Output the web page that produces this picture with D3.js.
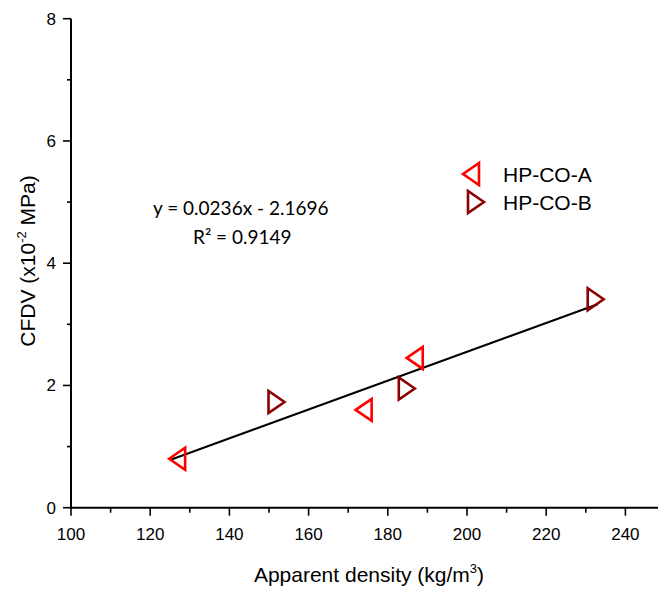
<!DOCTYPE html>
<html>
<head>
<meta charset="utf-8">
<script src="https://cdn.jsdelivr.net/npm/d3@7"></script>
<style>
  html, body { margin: 0; padding: 0; background: #fff; }
  svg { display: block; }
  text { font-family: "Liberation Sans", Arial, sans-serif; fill: #000; }
</style>
</head>
<body>
<svg id="chart" width="658" height="589"></svg>
<script>
// Series A: apparent density (kg/m3) and CFDV (x10^-2 MPa)
const densityA = [126.8, 173.9, 186.8];
const cfdvA    = [0.80, 1.60, 2.45];
// Series B
const densityB = [151.9, 184.8, 232.5];
const cfdvB    = [1.73, 1.95, 3.41];

const seriesNames = ["HP-CO-A", "HP-CO-B"];
const xTicks = [100, 120, 140, 160, 180, 200, 220, 240];
const yTicks = [0, 2, 4, 6, 8];

// Linear fit shown on the chart
const fitSlope = 0.0236;
const fitIntercept = -2.1696;
const fitR2 = 0.9149;
const fitRange = [125, 233];

const svg = d3.select("#chart");
const x = d3.scaleLinear().domain([100, 250]).range([71, 665]);
const y = d3.scaleLinear().domain([0, 8]).range([507.7, 18.7]);

const g = svg.append("g");

// X axis (runs off the right edge)
const xAxis = g.append("g").attr("transform", `translate(0,${y(0)})`);
xAxis.append("line").attr("x1", x(100) - 1).attr("x2", 658)
  .attr("stroke", "#000").attr("stroke-width", 2);
d3.range(100, 250, 10).forEach(v => {
  const major = v % 20 === 0;
  xAxis.append("line").attr("x1", x(v)).attr("x2", x(v))
    .attr("y1", 0).attr("y2", major ? 8 : 5)
    .attr("stroke", "#000").attr("stroke-width", 1.6);
});
xAxis.selectAll("text.tick").data(xTicks).join("text")
  .attr("class", "tick")
  .attr("x", d => x(d)).attr("y", 32)
  .attr("text-anchor", "middle").attr("font-size", 17)
  .text(d => d);

// Y axis
const yAxis = g.append("g").attr("transform", `translate(${x(100)},0)`);
yAxis.append("line").attr("y1", y(8)).attr("y2", y(0) + 1)
  .attr("stroke", "#000").attr("stroke-width", 2);
d3.range(0, 9, 1).forEach(v => {
  const major = v % 2 === 0;
  yAxis.append("line").attr("x1", major ? -8 : -4).attr("x2", 0)
    .attr("y1", y(v)).attr("y2", y(v))
    .attr("stroke", "#000").attr("stroke-width", 1.6);
});
yAxis.selectAll("text.tick").data(yTicks).join("text")
  .attr("class", "tick")
  .attr("x", -15).attr("y", d => y(d) + 6)
  .attr("text-anchor", "end").attr("font-size", 17)
  .text(d => d);

// Axis titles
const xt = svg.append("text").attr("x", 369).attr("y", 582)
  .attr("text-anchor", "middle").attr("font-size", 21);
xt.append("tspan").text("Apparent density (kg/m");
xt.append("tspan").attr("font-size", 13).attr("dy", -9).text("3");
xt.append("tspan").attr("dy", 9).text(")");

const yt = svg.append("text")
  .attr("transform", "translate(35,261) rotate(-90)")
  .attr("text-anchor", "middle").attr("font-size", 21);
yt.append("tspan").text("CFDV (x10");
yt.append("tspan").attr("font-size", 13).attr("dy", -9).text("-2");
yt.append("tspan").attr("dy", 9).text(" MPa)");

// Fit line
const line = d3.line().x(d => x(d)).y(d => y(fitSlope * d + fitIntercept));
svg.append("path").datum(fitRange).attr("d", line)
  .attr("fill", "none").attr("stroke", "#000").attr("stroke-width", 2);

// Triangle markers
const triW = 16, triH = 22;
function triPath(dir) {
  const hw = triW / 2, hh = triH / 2;
  return dir === "left"
    ? `M${-hw},0 L${hw},${-hh} L${hw},${hh} Z`
    : `M${hw},0 L${-hw},${-hh} L${-hw},${hh} Z`;
}
const colorA = "#ff0000", colorB = "#8b0000";

svg.append("g").selectAll("path").data(d3.zip(densityA, cfdvA)).join("path")
  .attr("transform", d => `translate(${x(d[0])},${y(d[1])})`)
  .attr("d", triPath("left"))
  .attr("fill", "none").attr("stroke", colorA).attr("stroke-width", 2.6)
  .attr("stroke-linejoin", "miter");
svg.append("g").selectAll("path").data(d3.zip(densityB, cfdvB)).join("path")
  .attr("transform", d => `translate(${x(d[0])},${y(d[1])})`)
  .attr("d", triPath("right"))
  .attr("fill", "none").attr("stroke", colorB).attr("stroke-width", 2.6)
  .attr("stroke-linejoin", "miter");

// Fit equation
svg.append("text").attr("x", 153).attr("y", 215)
  .style("font-family", "Lato, 'Open Sans', sans-serif").attr("font-size", 19)
  .text(`y = ${fitSlope}x - ${Math.abs(fitIntercept)}`);
svg.append("text").attr("x", 193).attr("y", 244)
  .style("font-family", "Lato, 'Open Sans', sans-serif").attr("font-size", 19)
  .text(`R² = ${fitR2}`);

// Legend
const legend = svg.append("g");
const legendItems = [
  { name: seriesNames[0], dir: "left", color: colorA, cy: 174 },
  { name: seriesNames[1], dir: "right", color: colorB, cy: 202 }
];
legendItems.forEach(it => {
  legend.append("path")
    .attr("transform", `translate(${it.dir === "left" ? 471 : 476},${it.cy})`)
    .attr("d", triPath(it.dir))
    .attr("fill", "none").attr("stroke", it.color).attr("stroke-width", 2.6);
  legend.append("text").attr("x", 503).attr("y", it.cy + 8)
    .attr("font-size", 21).text(it.name);
});
</script>
</body>
</html>
